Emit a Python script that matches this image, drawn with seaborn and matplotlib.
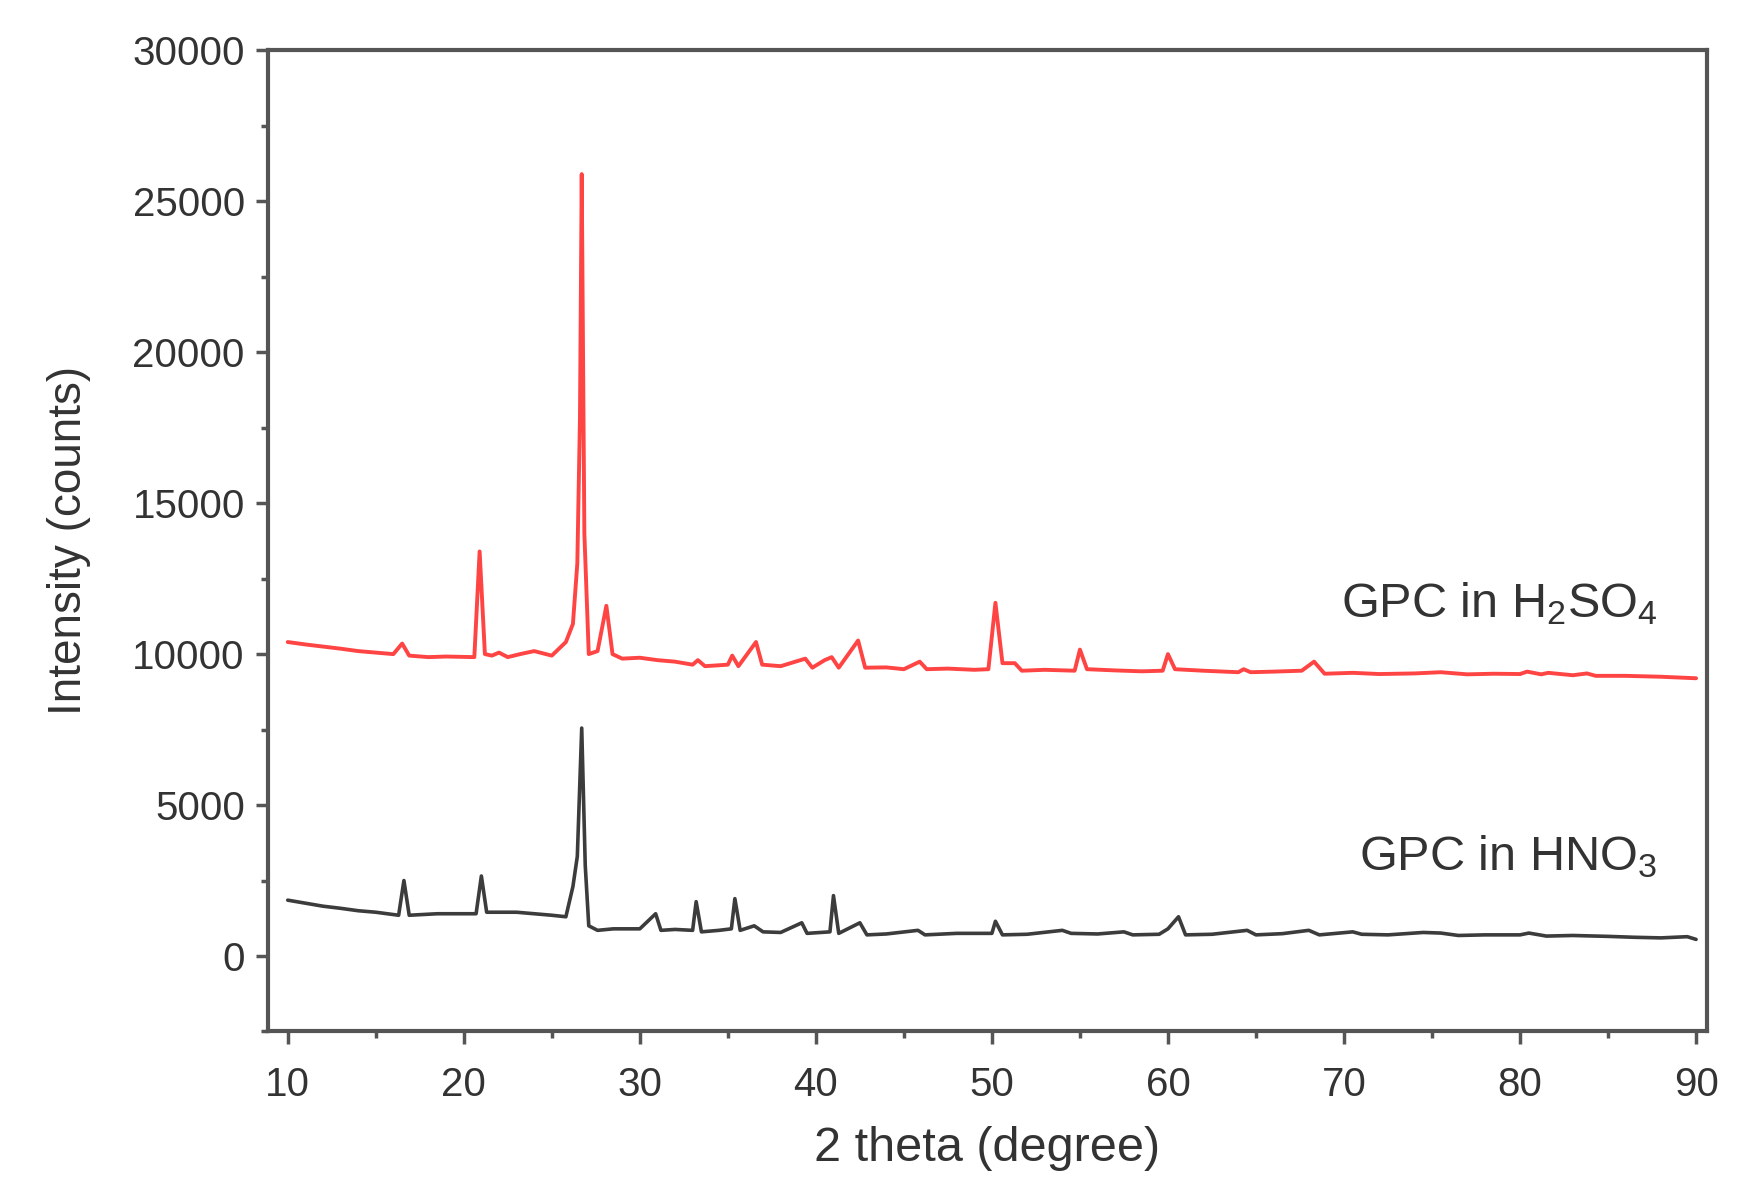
import numpy as np
import pandas as pd
import matplotlib
matplotlib.use("Agg")
import matplotlib.pyplot as plt
from matplotlib.ticker import MultipleLocator
import seaborn as sns

# XRD pattern (2 theta in degree, intensity in counts)
h2so4_theta = [10.0, 11.0, 12.0, 13.0, 14.0, 15.0, 16.0, 16.5, 16.9, 18.0, 19.0, 20.6, 20.9,
               21.2, 21.6, 22.0, 22.5, 23.2, 24.0, 25.0, 25.8, 26.2, 26.45, 26.6, 26.7,
               26.85, 27.1, 27.6, 28.1, 28.45, 29.0, 30.0, 31.0, 32.0, 33.0, 33.3, 33.7,
               35.0, 35.25, 35.6, 36.6, 36.95, 38.0, 39.4, 39.8, 40.5, 40.9, 41.3, 42.4,
               42.8, 44.0, 45.0, 45.9, 46.3, 47.5, 49.0, 49.8, 50.2, 50.6, 51.3, 51.7,
               53.0, 54.7, 55.0, 55.4, 57.0, 58.5, 59.7, 60.0, 60.4, 62.0, 64.0, 64.3,
               64.7, 66.0, 67.6, 68.3, 68.9, 70.5, 72.0, 74.0, 75.5, 77.0, 78.5, 80.0,
               80.4, 81.2, 81.6, 83.0, 83.8, 84.3, 86.0, 88.0, 90.0]
h2so4_counts = [10400, 10320, 10250, 10180, 10100, 10050, 10000, 10350, 9950, 9900, 9920,
                9900, 13400, 10000, 9950, 10050, 9900, 10000, 10100, 9950, 10400, 11000,
                13000, 17800, 25900, 14000, 10000, 10100, 11600, 10000, 9850, 9880, 9800,
                9750, 9650, 9800, 9600, 9650, 9950, 9600, 10400, 9650, 9600, 9850, 9550,
                9800, 9900, 9550, 10450, 9550, 9560, 9500, 9750, 9500, 9520, 9480, 9500,
                11700, 9700, 9700, 9450, 9480, 9450, 10150, 9500, 9460, 9430, 9450, 10000,
                9500, 9450, 9400, 9500, 9400, 9420, 9450, 9750, 9350, 9380, 9340, 9360,
                9400, 9330, 9350, 9340, 9420, 9330, 9380, 9300, 9360, 9280, 9280, 9250,
                9200]

hno3_theta = [10.0, 11.0, 12.0, 13.0, 14.0, 15.0, 16.3, 16.6, 16.9, 18.5, 20.7, 21.0, 21.3,
              23.0, 25.0, 25.8, 26.2, 26.45, 26.7, 26.9, 27.1, 27.6, 28.5, 30.0, 30.9,
              31.2, 32.0, 33.0, 33.2, 33.5, 34.5, 35.2, 35.4, 35.7, 36.5, 37.0, 38.0,
              39.2, 39.5, 40.8, 41.0, 41.3, 42.5, 42.9, 44.0, 45.8, 46.2, 48.0, 50.0,
              50.2, 50.6, 52.0, 54.0, 54.5, 56.0, 57.5, 58.0, 59.5, 60.0, 60.6, 61.0,
              62.5, 64.5, 65.0, 66.5, 68.0, 68.6, 70.5, 71.0, 72.5, 74.5, 75.5, 76.5,
              78.0, 80.0, 80.5, 81.5, 83.0, 85.0, 86.5, 88.0, 89.5, 90.0]
hno3_counts = [1850, 1750, 1650, 1580, 1500, 1450, 1350, 2500, 1350, 1400, 1400, 2650, 1450,
               1450, 1350, 1300, 2300, 3300, 7550, 3000, 1000, 850, 900, 900, 1400, 850,
               880, 850, 1800, 800, 850, 900, 1900, 850, 1000, 800, 780, 1100, 750, 800,
               2000, 750, 1100, 700, 730, 850, 700, 750, 750, 1150, 700, 720, 850, 750,
               730, 800, 700, 720, 900, 1300, 700, 720, 850, 700, 740, 850, 700, 800,
               720, 700, 780, 760, 680, 700, 700, 760, 660, 680, 650, 620, 600, 640, 550]

x_ticks = [10, 20, 30, 40, 50, 60, 70, 80, 90]
y_ticks = [0, 5000, 10000, 15000, 20000, 25000, 30000]

sns.set_theme(style="white")
plt.rcParams["font.family"] = ["Liberation Sans", "DejaVu Sans"]
plt.rcParams["mathtext.fontset"] = "custom"
plt.rcParams["mathtext.rm"] = "Liberation Sans"

df_h = pd.DataFrame({"theta": h2so4_theta, "counts": h2so4_counts})
df_n = pd.DataFrame({"theta": hno3_theta, "counts": hno3_counts})

fig = plt.figure(figsize=(17.54, 11.98), dpi=100)
ax = fig.add_axes([0.153, 0.139, 0.820, 0.819])

sns.lineplot(data=df_h, x="theta", y="counts", ax=ax, color="#ff4444",
             linewidth=2.8, estimator=None)
sns.lineplot(data=df_n, x="theta", y="counts", ax=ax, color="#3c3c3c",
             linewidth=2.6, estimator=None)

ax.text(87.8, 11650, r"GPC in $\mathrm{H_2SO_4}$", ha="right", va="center",
        fontsize=35, color="#333333")
ax.text(87.8, 3300, r"GPC in $\mathrm{HNO_3}$", ha="right", va="center",
        fontsize=35, color="#333333")

ax.set_xlim(8.9, 90.6)
ax.set_ylim(-2500, 30000)
ax.set_xticks(x_ticks)
ax.set_yticks(y_ticks)
ax.xaxis.set_minor_locator(MultipleLocator(5))
ax.yaxis.set_minor_locator(MultipleLocator(2500))
ax.tick_params(axis="both", which="major", direction="out", length=9, width=2.5,
               labelsize=29, colors="#555555", labelcolor="#333333")
ax.tick_params(axis="both", which="minor", direction="out", length=5, width=2.5,
               colors="#555555")
ax.tick_params(axis="x", which="major", pad=16)
ax.tick_params(axis="y", which="major", pad=8)
ax.tick_params(top=False, right=False, which="both")
ax.tick_params(axis="x", which="both", bottom=True)
ax.tick_params(axis="y", which="both", left=True)

for s in ax.spines.values():
    s.set_color("#555555")
    s.set_linewidth(3)

ax.set_xlabel("2 theta (degree)", fontsize=35, color="#333333", labelpad=16)
ax.set_ylabel("Intensity (counts)", fontsize=33, color="#333333", labelpad=30)

fig.savefig("out.png", dpi=100)
